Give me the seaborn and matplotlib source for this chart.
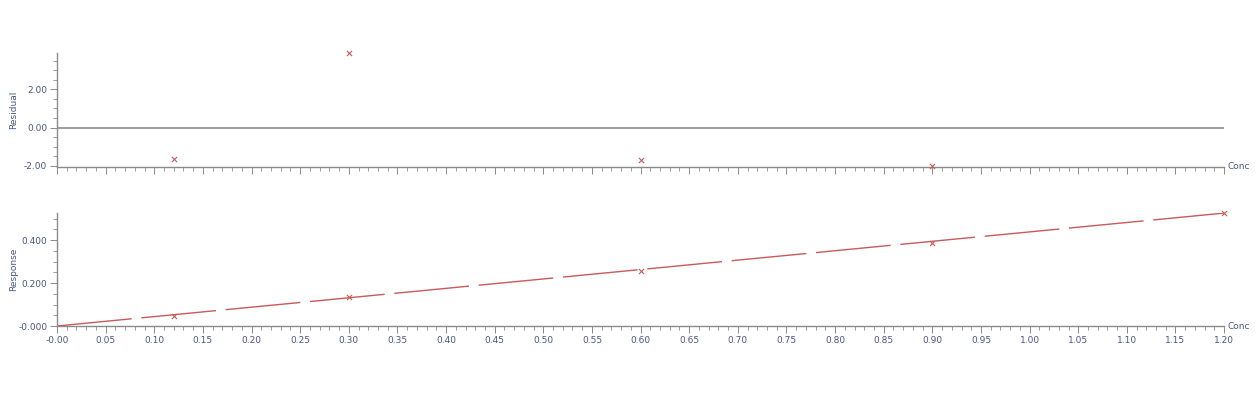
import numpy as np
import pandas as pd
import matplotlib
matplotlib.use("Agg")
import matplotlib.pyplot as plt
from matplotlib.ticker import MultipleLocator
import seaborn as sns

# ---- data ----
point_conc = [0.12, 0.30, 0.60, 0.90, 1.20]
point_response = [0.047, 0.135, 0.256, 0.388, 0.526]
resid_conc = [0.12, 0.30, 0.60, 0.90]
resid_values = [-1.65, 3.88, -1.70, -2.02]
fit_conc = [0.00, 1.20]
fit_response = [0.000, 0.526]
x_ticks = [round(0.05 * i, 2) for i in range(25)]
x_tick_labels = ["-0.00"] + [f"{v:.2f}" for v in x_ticks[1:]]
resid_ticks = [-2.0, 0.0, 2.0]
resid_tick_labels = ["-2.00", "0.00", "2.00"]
resp_ticks = [0.0, 0.2, 0.4]
resp_tick_labels = ["-0.000", "0.200", "0.400"]

sns.set_style("white")
plt.rcParams['font.family'] = ['DejaVu Sans']

TXT = "#4a5680"
SPINE = "#8a8a8a"
RED = "#c85a5a"

fig = plt.figure(figsize=(12.59, 4.07), dpi=100)
ax1 = fig.add_axes([0.0453, 0.590, 0.927, 0.280])
ax2 = fig.add_axes([0.0453, 0.199, 0.927, 0.278])

df_pts = pd.DataFrame({"Conc": point_conc, "Response": point_response})
df_res = pd.DataFrame({"Conc": resid_conc, "Residual": resid_values})
df_fit = pd.DataFrame({"Conc": fit_conc, "Response": fit_response})

# residual panel
ax1.axhline(0, color="#8c8c8c", lw=1.2)
sns.scatterplot(data=df_res, x="Conc", y="Residual", ax=ax1, marker="x",
                color=RED, s=14, linewidth=0.8, clip_on=False, zorder=3)
ax1.set_ylim(-2.05, 3.9)

# response panel
sns.lineplot(data=df_fit, x="Conc", y="Response", ax=ax2, color=RED, lw=1.0,
             dashes=False)
ax2.lines[0].set_dashes((54, 7))
sns.scatterplot(data=df_pts, x="Conc", y="Response", ax=ax2, marker="x",
                color=RED, s=14, linewidth=0.8, clip_on=False, zorder=3)
ax2.set_ylim(0, 0.527)

for ax in (ax1, ax2):
    ax.set_xlim(0, 1.2)
    ax.set_xticks(x_ticks)
    ax.xaxis.set_minor_locator(MultipleLocator(0.01))
    for s in ("top", "right"):
        ax.spines[s].set_visible(False)
    for s in ("left", "bottom"):
        ax.spines[s].set_color(SPINE)
        ax.spines[s].set_linewidth(1.0)
    ax.tick_params(axis="both", which="major", direction="out", length=5,
                   width=0.7, color=SPINE, labelcolor=TXT, labelsize=6.5, pad=2,
                   bottom=True, left=True)
    ax.tick_params(axis="both", which="minor", direction="out", length=3,
                   width=0.6, color=SPINE, bottom=True, left=True)
    ax.set_xlabel("")
    ax.text(1.003, 0, "Conc", transform=ax.transAxes, ha="left", va="center",
            fontsize=6.5, color=TXT)

ax1.set_xticklabels([])
ax2.set_xticklabels(x_tick_labels)
ax1.set_yticks(resid_ticks)
ax1.set_yticklabels(resid_tick_labels)
ax1.yaxis.set_minor_locator(MultipleLocator(0.5))
ax2.set_yticks(resp_ticks)
ax2.set_yticklabels(resp_tick_labels)
ax2.yaxis.set_minor_locator(MultipleLocator(0.05))

ax1.set_ylabel("Residual", fontsize=6.5, color=TXT)
ax2.set_ylabel("Response", fontsize=6.5, color=TXT)
for ax in (ax1, ax2):
    ax.yaxis.set_label_coords(-0.033, 0.5)

fig.savefig("out.png", dpi=100, facecolor="white")
